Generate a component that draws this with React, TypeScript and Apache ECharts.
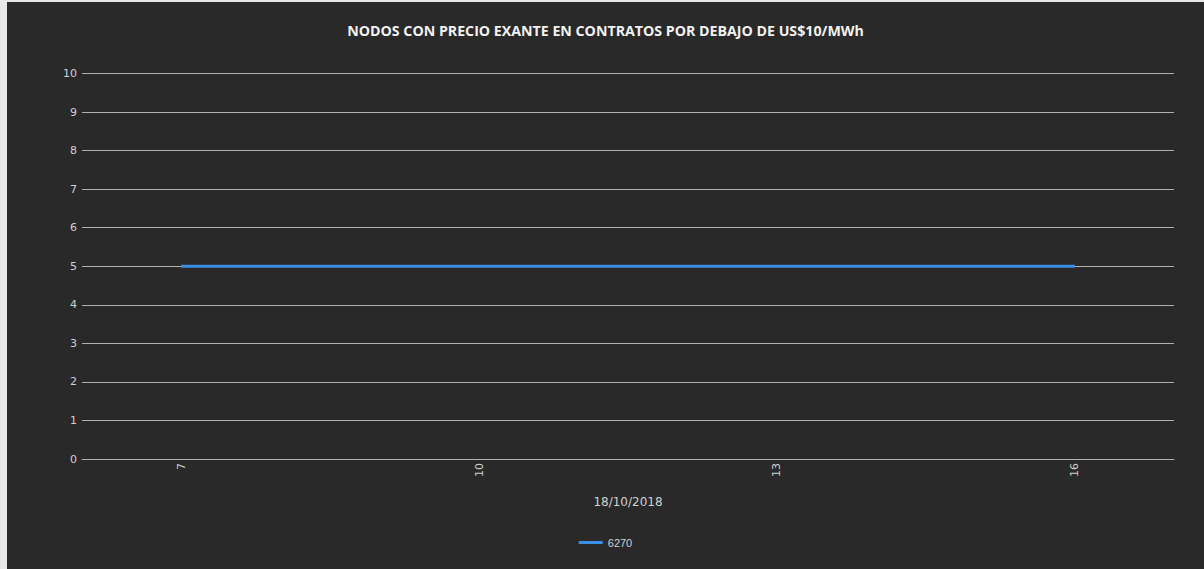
import React, { useEffect, useRef } from "react";
import * as echarts from "echarts";

const hours = ["6", "7", "8", "9", "10", "11", "12", "13", "14", "15", "16", "17"];
const shownLabels = ["7", "10", "13", "16"];
const seriesName = "6270";
const values: (number | null)[] = [null, 5, 5, 5, 5, 5, 5, 5, 5, 5, 5, null];
const titleText = "NODOS CON PRECIO EXANTE EN CONTRATOS POR DEBAJO DE US$10/MWh";
const xAxisName = "18/10/2018";

export default function App() {
  const ref = useRef<HTMLDivElement>(null);
  useEffect(() => {
    if (!ref.current) return;
    const chart = echarts.init(ref.current, undefined, { renderer: "svg" });
    chart.setOption({
      animation: false,
      backgroundColor: "#292929",
      title: {
        text: titleText,
        left: "center",
        top: 16,
        textStyle: { color: "#f2f2f2", fontSize: 14.2, fontWeight: "bold", fontFamily: "Open Sans" },
      },
      legend: {
        data: [seriesName],
        top: 530,
        left: "center",
        icon: "rect",
        itemWidth: 24,
        itemHeight: 3,
        textStyle: { color: "#d0d0d0", fontSize: 11, fontFamily: "Liberation Sans" },
      },
      grid: { left: 75, right: 30, top: 71.5, bottom: 110 },
      xAxis: {
        type: "category",
        data: hours,
        boundaryGap: false,
        name: xAxisName,
        nameLocation: "middle",
        nameGap: 37,
        nameTextStyle: { color: "#d0d0d0", fontSize: 12, fontFamily: "DejaVu Sans" },
        axisLine: { show: true, lineStyle: { color: "#b0b0b0" } },
        axisTick: { show: false },
        axisLabel: {
          rotate: 90,
          color: "#d0d0d0",
          fontSize: 11,
          fontFamily: "DejaVu Sans",
          margin: 4,
          interval: (_i: number, v: string) => shownLabels.includes(v),
        },
        splitLine: { show: false },
      },
      yAxis: {
        type: "value",
        min: 0,
        max: 10,
        interval: 1,
        axisLine: { show: false },
        axisTick: { show: false },
        axisLabel: { color: "#d0d0d0", fontSize: 11, fontFamily: "DejaVu Sans", margin: 5 },
        splitLine: { lineStyle: { color: "#b0b0b0", width: 1 } },
      },
      series: [
        {
          name: seriesName,
          type: "line",
          data: values,
          showSymbol: false,
          symbol: "none",
          lineStyle: { color: "#3a8ee6", width: 3 },
          itemStyle: { color: "#3a8ee6" },
        },
      ],
    });
    return () => chart.dispose();
  }, []);
  return (
    <div style={{ position: "fixed", left: 0, top: 0, width: 1204, height: 569, background: "#e8e8e8" }}>
      <div ref={ref} style={{ position: "absolute", left: 7, top: 2, width: 1197, height: 567 }} />
    </div>
  );
}
